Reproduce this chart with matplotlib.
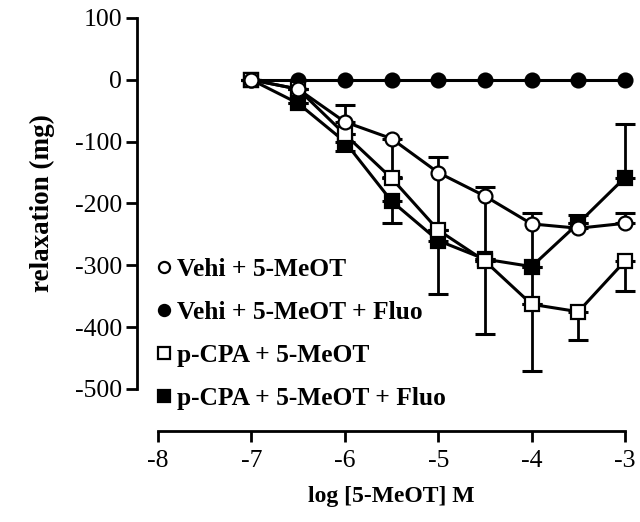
import matplotlib
matplotlib.use("Agg")
import matplotlib.pyplot as plt
from matplotlib.lines import Line2D

plt.rcParams['font.family'] = ['Liberation Serif', 'DejaVu Serif']

# 数据
log_conc = [-7, -6.5, -6, -5.5, -5, -4.5, -4, -3.5, -3]

vehi = [0, -15, -68, -95, -150, -188, -233, -240, -232]
vehi_lo = [0, 0, 0, 62, 93, 105, 130, 0, 0]
vehi_hi = [0, 0, 28, 0, 25, 15, 18, 8, 16]

vehi_fluo = [0, 0, 0, 0, 0, 0, 0, 0, 0]

pcpa = [0, -15, -88, -159, -243, -293, -363, -375, -293]
pcpa_lo = [0, 0, 0, 0, 0, 118, 108, 46, 48]
pcpa_hi = [0, 0, 0, 0, 0, 0, 0, 0, 0]

pcpa_fluo = [0, -38, -100, -196, -260, -290, -302, -232, -158]
pcpa_fluo_lo = [0, 0, 15, 35, 86, 0, 0, 0, 0]
pcpa_fluo_hi = [0, 0, 0, 0, 0, 0, 0, 14, 87]

labels = ["Vehi + 5-MeOT", "Vehi + 5-MeOT + Fluo",
          "p-CPA + 5-MeOT", "p-CPA + 5-MeOT + Fluo"]
x_ticks = [-8, -7, -6, -5, -4, -3]
y_ticks = [-500, -400, -300, -200, -100, 0, 100]

fig = plt.figure(figsize=(6.4, 5.22), dpi=100)
ax = fig.add_axes([158 / 640, 1 - 389 / 522, 467 / 640, (389 - 18) / 522])

lw = 2.2
ms = 10
# (数据, 下误差, 上误差, 标记, 填充色, 图层)
series = [
    (vehi, vehi_lo, vehi_hi, 'o', 'white', 6),
    (vehi_fluo, None, None, 'o', 'black', 3),
    (pcpa, pcpa_lo, pcpa_hi, 's', 'white', 5),
    (pcpa_fluo, pcpa_fluo_lo, pcpa_fluo_hi, 's', 'black', 4),
]
# 先画误差线，再画折线和点
for y, lo, hi, m, fc, z in series:
    if lo is not None:
        ax.errorbar(log_conc, y, yerr=[lo, hi], fmt='none', ecolor='black',
                    elinewidth=2, capsize=7, capthick=2.2, clip_on=False, zorder=2)
for y, lo, hi, m, fc, z in series:
    ax.plot(log_conc, y, color='black', lw=lw, marker=m, markersize=ms,
            markerfacecolor=fc, markeredgecolor='black', markeredgewidth=1.6,
            clip_on=False, zorder=z)

ax.set_xlim(-8, -3)
ax.set_ylim(-500, 100)
ax.set_xticks(x_ticks)
ax.set_yticks(y_ticks)
ax.set_xticklabels([str(t) for t in x_ticks])
ax.set_yticklabels([str(t) for t in y_ticks])

for s in ['top', 'right']:
    ax.spines[s].set_visible(False)
ax.spines['left'].set_position(('outward', 15))
ax.spines['bottom'].set_position(('outward', 30))
ax.spines['left'].set_linewidth(2)
ax.spines['bottom'].set_linewidth(2)
ax.tick_params(direction='out', length=8, width=2, labelsize=18.5, pad=3)
ax.tick_params(axis='x', pad=6)

ax.set_ylabel("relaxation (mg)", fontsize=19.5, fontweight='bold', labelpad=14)
ax.set_xlabel("log [5-MeOT] M", fontsize=17, fontweight='bold', labelpad=10)

handles = [Line2D([], [], ls='none', marker=m, markersize=8, markerfacecolor=fc,
                  markeredgecolor='black', markeredgewidth=1.6)
           for _, _, _, m, fc, _ in series]
ax.legend(handles, labels, loc='upper left', bbox_to_anchor=(145 / 640, 1 - 245 / 522),
          bbox_transform=fig.transFigure, frameon=False, handlelength=0.45,
          handletextpad=0.3, labelspacing=0.78, borderpad=0,
          prop={'size': 18.4, 'weight': 'bold'})

fig.savefig("out.png", dpi=100)
